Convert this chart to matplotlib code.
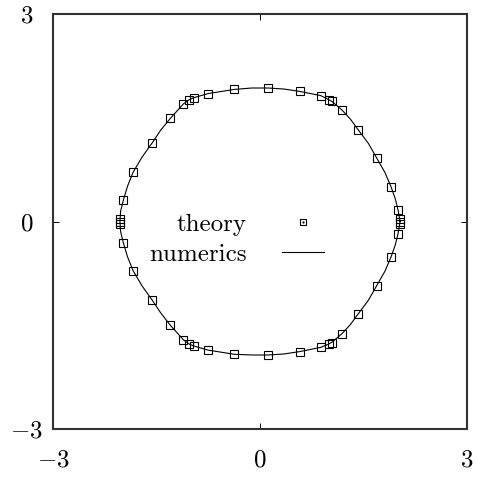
import matplotlib
matplotlib.use("Agg")
import matplotlib.pyplot as plt
from matplotlib.lines import Line2D

plt.rcParams["font.family"] = ["cmr10", "DejaVu Serif"]
plt.rcParams["mathtext.fontset"] = "cm"
plt.rcParams["axes.unicode_minus"] = False

# theory points (x, y)
theory_x = [0.12, 0.58, 0.88, 1.00, 1.05, 1.19, 1.42, 1.69, 1.90, 2.00, 2.03, 2.03,
            2.03, 2.00, 1.90, 1.69, 1.42, 1.19, 1.05, 1.00, 0.88, 0.58, 0.12,
            -0.37, -0.75, -0.96, -1.03, -1.11, -1.30, -1.56, -1.84, -1.98, -2.03, -2.03,
            -2.03, -1.98, -1.84, -1.56, -1.30, -1.11, -1.03, -0.96, -0.75, -0.37]
theory_y = [1.93, 1.88, 1.82, 1.76, 1.74, 1.61, 1.33, 0.92, 0.50, 0.17, 0.03, 0.00,
            -0.03, -0.18, -0.51, -0.93, -1.34, -1.62, -1.75, -1.77, -1.82, -1.88, -1.93,
            -1.92, -1.86, -1.80, -1.77, -1.71, -1.50, -1.14, -0.71, -0.31, -0.03, 0.00,
            0.03, 0.31, 0.71, 1.14, 1.49, 1.70, 1.76, 1.79, 1.85, 1.91]

# numerical contour, traced counter-clockwise from the positive x axis
numerics_x = [2.03, 2.00, 1.96, 1.90, 1.81, 1.69, 1.57, 1.42, 1.31, 1.19, 1.05, 1.00,
              0.88, 0.58, 0.35, 0.12, -0.12, -0.37, -0.56, -0.75, -0.96, -1.03, -1.11,
              -1.30, -1.44, -1.56, -1.71, -1.84, -1.92, -1.98, -2.02, -2.03,
              -2.02, -1.98, -1.92, -1.84, -1.71, -1.56, -1.44, -1.30, -1.11, -1.03,
              -0.96, -0.75, -0.56, -0.37, -0.12, 0.12, 0.35, 0.58, 0.88, 1.00, 1.05,
              1.19, 1.31, 1.42, 1.57, 1.69, 1.81, 1.90, 1.96, 2.00, 2.03]
numerics_y = [0.00, 0.17, 0.33, 0.50, 0.71, 0.92, 1.13, 1.33, 1.48, 1.61, 1.73, 1.76,
              1.82, 1.88, 1.915, 1.93, 1.93, 1.91, 1.88, 1.85, 1.79, 1.76, 1.70,
              1.49, 1.32, 1.14, 0.93, 0.71, 0.51, 0.31, 0.15, 0.00,
              -0.15, -0.31, -0.51, -0.71, -0.93, -1.14, -1.32, -1.50, -1.71, -1.77,
              -1.80, -1.86, -1.89, -1.92, -1.93, -1.93, -1.915, -1.88, -1.82, -1.77, -1.74,
              -1.62, -1.49, -1.34, -1.14, -0.93, -0.72, -0.51, -0.34, -0.18, 0.00]

axis_limits = (-3, 3)
tick_values = [-3, 0, 3]
tick_labels = ["$-3$", "$0$", "$3$"]

fs = 18
fig = plt.figure(figsize=(4.78, 4.78), dpi=100)
ax = fig.add_axes([53 / 478, 1 - 429 / 478, 414 / 478, 415 / 478])

ax.plot(numerics_x, numerics_y, color="black", linewidth=0.8,
        solid_joinstyle="round")
ax.plot(theory_x, theory_y, linestyle="none", marker="s", markersize=5.2,
        markerfacecolor="none", markeredgecolor="black", markeredgewidth=0.8)

ax.set_xlim(*axis_limits)
ax.set_ylim(*axis_limits)
ax.set_xticks(tick_values)
ax.set_yticks(tick_values)
ax.set_xticklabels(tick_labels, fontsize=fs)
ax.set_yticklabels(tick_labels, fontsize=fs)
ax.tick_params(axis="both", direction="in", length=4.3, width=0.7, color="black",
               top=True, right=True)
ax.tick_params(axis="x", pad=15)
ax.tick_params(axis="y", pad=19)
for lab in ax.get_yticklabels():
    lab.set_horizontalalignment("center")
for sp in ax.spines.values():
    sp.set_linewidth(1.5)
    sp.set_color("#333333")

theory_box = Line2D([], [], linestyle="none", marker="s", markersize=4.5,
                    markerfacecolor="none", markeredgecolor="black",
                    markeredgewidth=0.8)
theory_dot = Line2D([], [], linestyle="none", marker="s", markersize=1.0,
                    markerfacecolor="black", markeredgecolor="black",
                    markeredgewidth=0.3)
numerics_handle = Line2D([], [], color="black", linewidth=0.8)

common = dict(loc="center right", frameon=False, fontsize=fs, markerfirst=False,
              handlelength=1.7, handletextpad=1.4, borderpad=0, borderaxespad=0)
leg1 = ax.legend([(theory_box, theory_dot)], ["theory"],
                 bbox_to_anchor=(0.655, 0.493), **common)
ax.add_artist(leg1)
ax.legend([numerics_handle], ["numerics"], bbox_to_anchor=(0.655, 0.42), **common)

fig.savefig("out.png", dpi=100)
